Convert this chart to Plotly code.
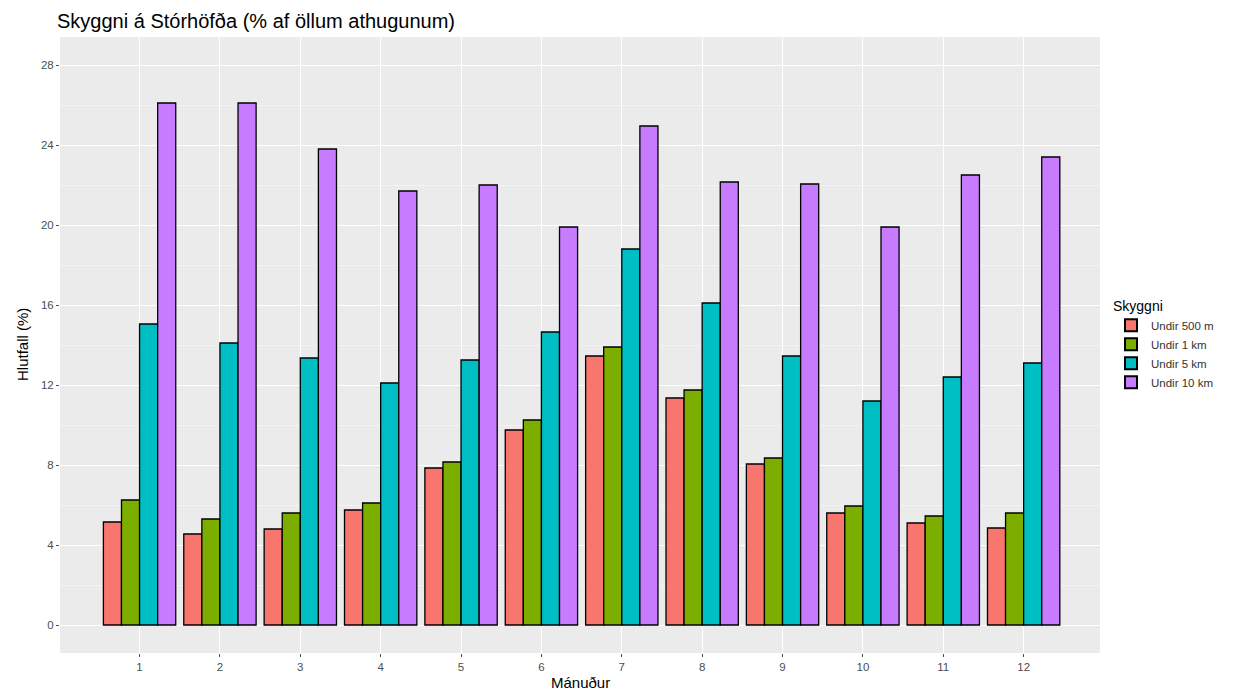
import plotly.graph_objects as go

months = [1, 2, 3, 4, 5, 6, 7, 8, 9, 10, 11, 12]
month_labels = ["1", "2", "3", "4", "5", "6", "7", "8", "9", "10", "11", "12"]
series_names = ["Undir 500 m", "Undir 1 km", "Undir 5 km", "Undir 10 km"]
undir_500m = [5.15, 4.55, 4.8, 5.75, 7.85, 9.75, 13.45, 11.35, 8.05, 5.6, 5.1, 4.85]
undir_1km = [6.25, 5.3, 5.6, 6.1, 8.15, 10.25, 13.9, 11.75, 8.35, 5.95, 5.45, 5.6]
undir_5km = [15.05, 14.1, 13.35, 12.1, 13.25, 14.65, 18.8, 16.1, 13.45, 11.2, 12.4, 13.1]
undir_10km = [26.1, 26.1, 23.8, 21.7, 22.0, 19.9, 24.95, 22.15, 22.05, 19.9, 22.5, 23.4]
y_ticks = [0, 4, 8, 12, 16, 20, 24, 28]
y_minor = [2, 6, 10, 14, 18, 22, 26]

colors = ["#F8766D", "#7CAE00", "#00BFC4", "#C77CFF"]
series = [undir_500m, undir_1km, undir_5km, undir_10km]

fig = go.Figure()
for name, vals, col in zip(series_names, series, colors):
    fig.add_trace(go.Bar(
        x=months, y=vals, name=name,
        marker=dict(color=col, line=dict(color="black", width=1.3)),
    ))

font_family = "Liberation Sans, Arial, sans-serif"
# page has an 8px body margin; figure coordinates are page coordinates minus 8
W, H = 1232, 685
L, R, T, B = 52, 140, 29, 40
PW, PH = W - L - R, H - T - B
fig.update_layout(
    width=W, height=H,
    barmode="group", bargap=0.1, bargroupgap=0,
    paper_bgcolor="white", plot_bgcolor="#EBEBEB",
    margin=dict(l=L, r=R, t=T, b=B, autoexpand=False),
    font=dict(family=font_family, color="#4D4D4D", size=11),
    title=dict(text="Skyggni á Stórhöfða (% af öllum athugunum)",
               font=dict(size=20, color="black", family=font_family),
               x=49/W, xanchor="left", y=1-13/H, yanchor="middle"),
    xaxis=dict(
        range=[0.01, 12.95], tickvals=months, ticktext=month_labels,
        showgrid=True, gridcolor="white", gridwidth=1,
        ticks="outside", ticklen=3, tickcolor="#4D4D4D", tickwidth=1,
        zeroline=False, showline=False, automargin=False,
        tickfont=dict(size=11.5),
    ),
    yaxis=dict(
        range=[-1.4, 29.4], tickvals=y_ticks,
        showgrid=True, gridcolor="white", gridwidth=1,
        minor=dict(tickvals=y_minor, showgrid=True,
                   gridcolor="#F3F3F3", gridwidth=0.6),
        ticks="outside", ticklen=3, tickcolor="#4D4D4D", tickwidth=1,
        zeroline=False, showline=False, automargin=False,
        tickfont=dict(size=11.5),
    ),
    legend=dict(
        title=dict(text="Skyggni", font=dict(size=14, color="black")),
        x=1 + 11/PW, xanchor="left", y=0.585, yanchor="top",
        font=dict(size=11.5, color="#333333"),
        bgcolor="rgba(0,0,0,0)", tracegroupgap=0, itemsizing="constant",
    ),
    annotations=[
        dict(text="Mánuður", xref="paper", yref="paper",
             x=0.5, y=-29 / PH, xanchor="center", yanchor="middle",
             showarrow=False, font=dict(size=15, color="black")),
        dict(text="Hlutfall (%)", xref="paper", yref="paper",
             x=-38 / PW, y=0.5, xanchor="center", yanchor="middle",
             textangle=-90, showarrow=False, font=dict(size=15, color="black")),
    ],
)

fig.write_html("out.html")
